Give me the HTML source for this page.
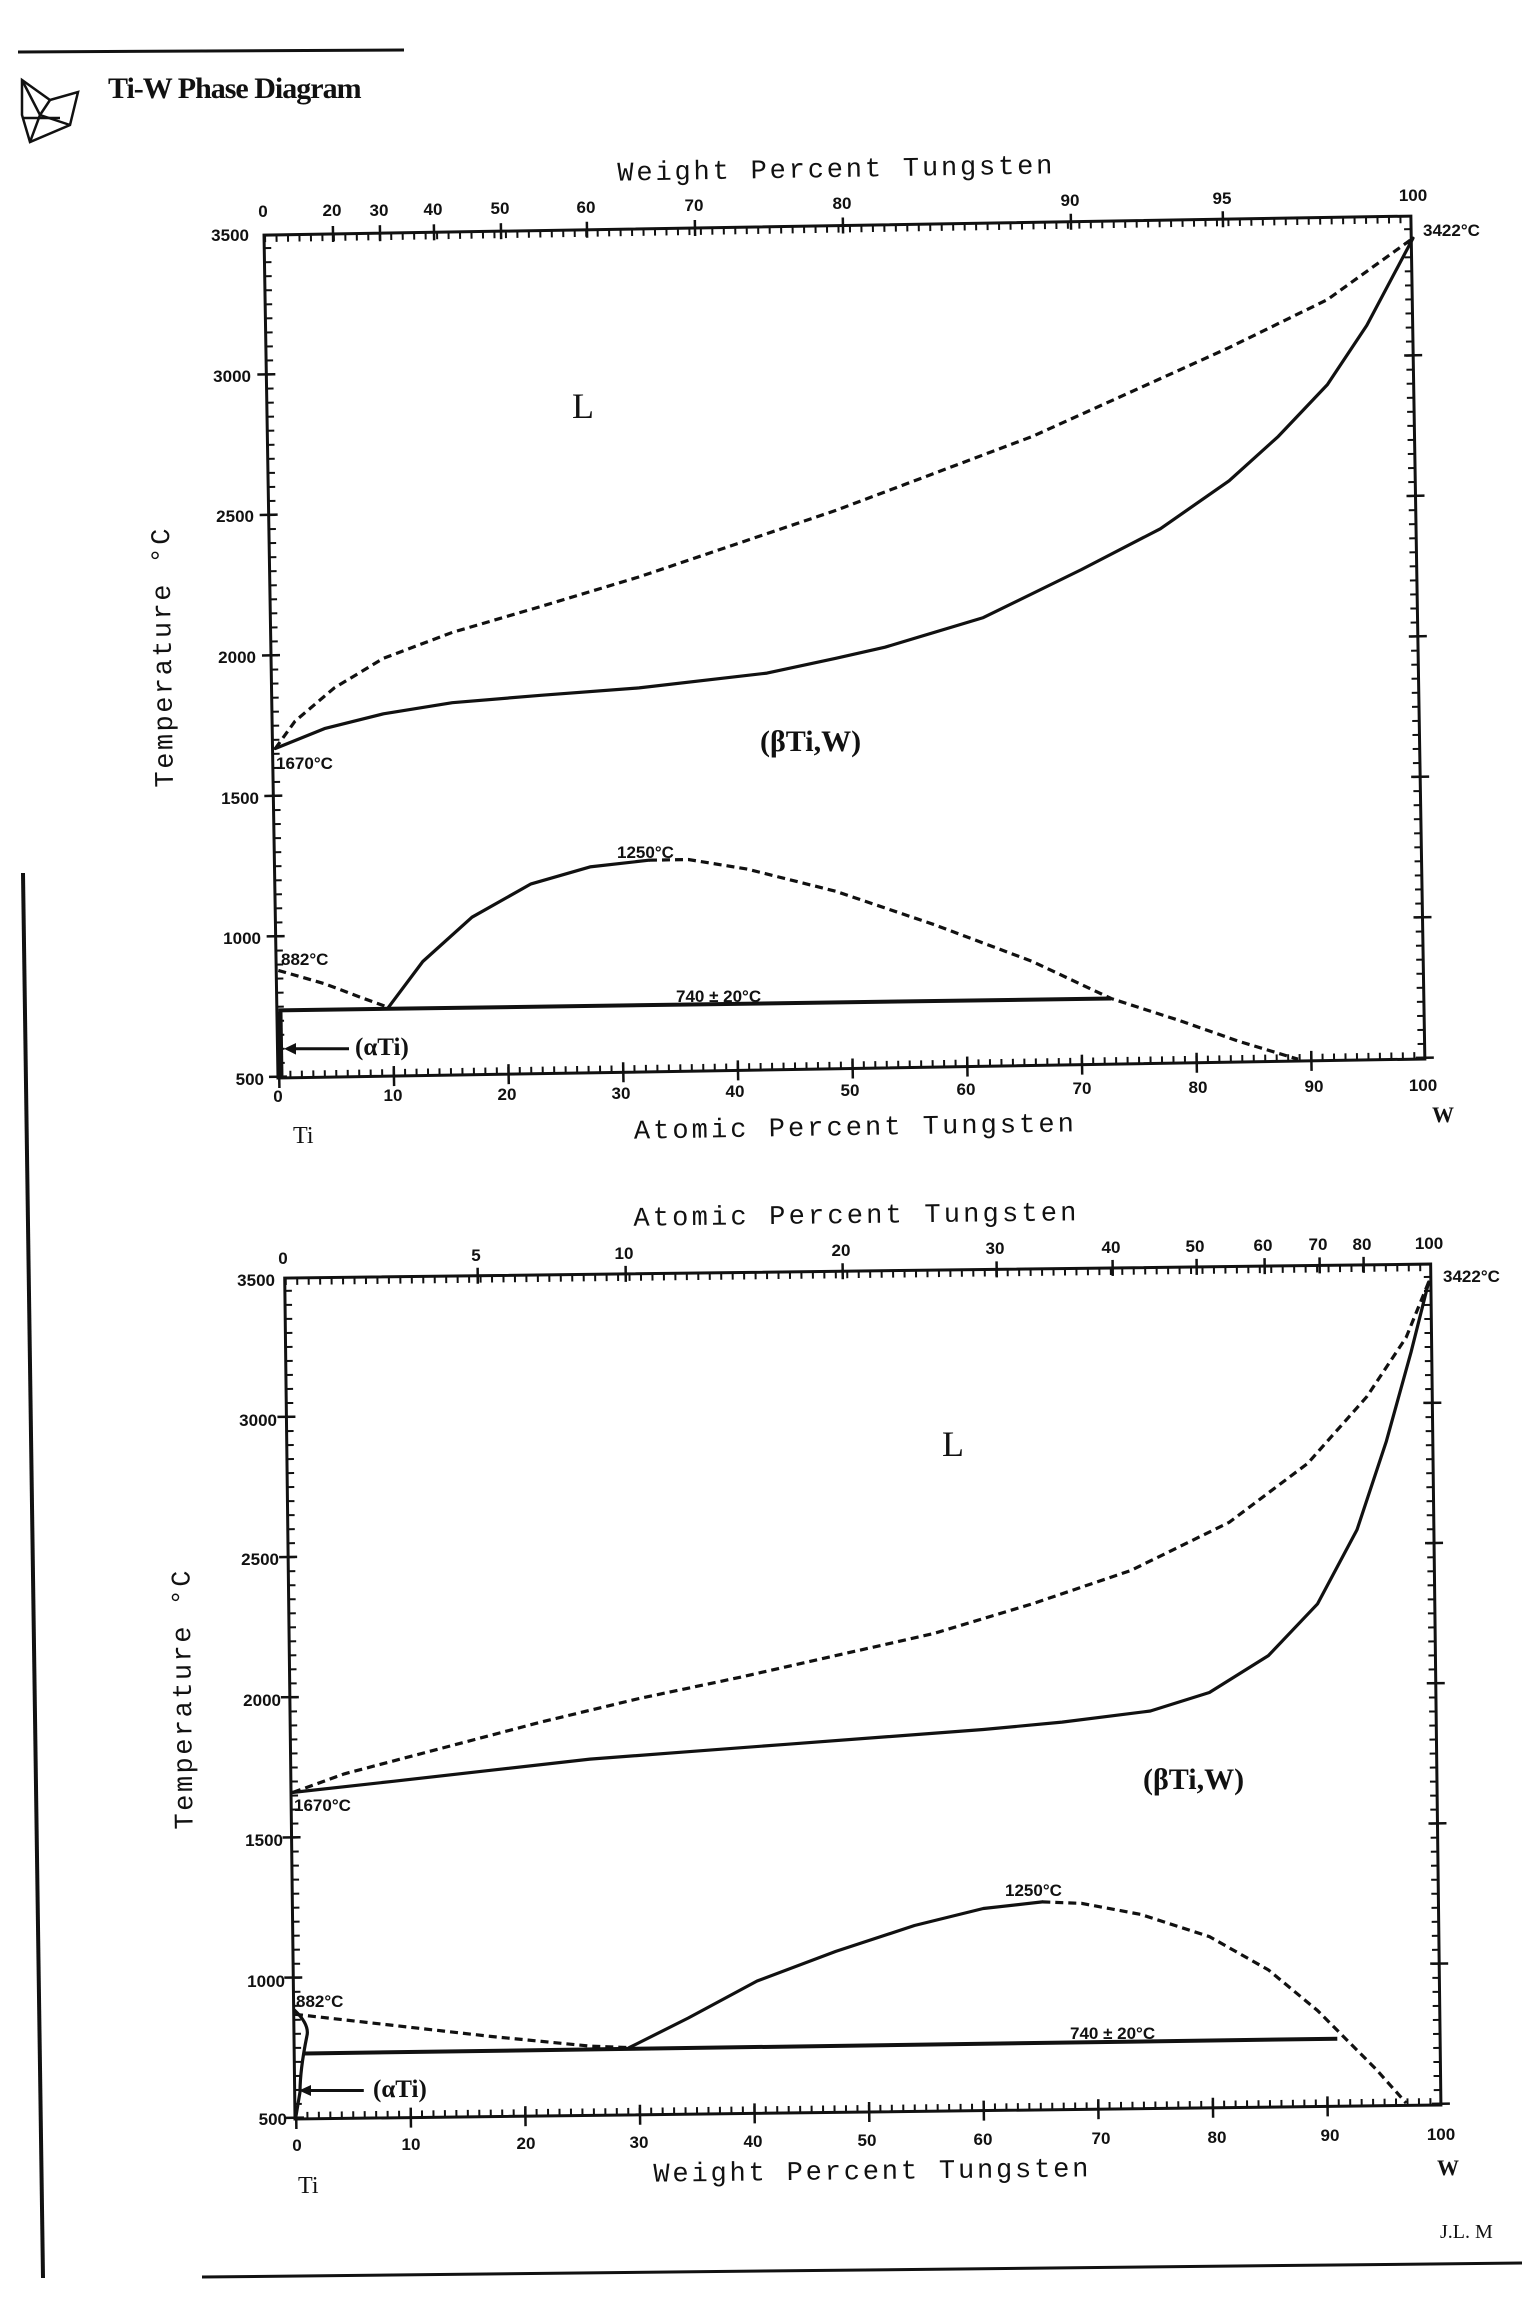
<!DOCTYPE html>
<html><head><meta charset="utf-8"><style>
html,body{margin:0;padding:0;background:#fff;}
svg{display:block}
.t{font-family:"Liberation Sans",sans-serif;font-size:17px;font-weight:bold;fill:#111}
.m{font-family:"Liberation Mono",monospace;font-size:27px;fill:#111}
.s{font-family:"Liberation Serif",serif;fill:#111}
.c{fill:none;stroke:#111;stroke-width:3.2;stroke-linejoin:round;stroke-linecap:round}
.d{fill:none;stroke:#111;stroke-width:3.2;stroke-dasharray:8 5}
.ax{fill:none;stroke:#111;stroke-width:3}
.tk{fill:none;stroke:#111}
</style></head><body>
<svg width="1522" height="2316" viewBox="0 0 1522 2316" xmlns="http://www.w3.org/2000/svg">
<!-- page decorations -->
<line x1="18" y1="52" x2="404" y2="50" stroke="#111" stroke-width="3"/>
<line x1="23" y1="873" x2="43" y2="2278" stroke="#111" stroke-width="4"/>
<line x1="202" y1="2277" x2="1522" y2="2263" stroke="#111" stroke-width="3"/>
<text x="1440" y="2238" class="s" font-size="20">J.L. M</text>
<g fill="none" stroke="#111" stroke-width="2.5">
<polygon points="22,80 50,100 78,92 70,125 30,142 22,115"/>
<polyline points="22,80 40,115 70,125"/>
<polyline points="50,100 40,115 30,142"/>
<line x1="22" y1="118" x2="60" y2="118"/>
</g>
<text x="108" y="98" class="s" font-size="30" font-weight="bold" letter-spacing="-1">Ti-W Phase Diagram</text>

<!-- ================= TOP CHART ================= -->
<g transform="translate(278,1078) rotate(-0.95)">
<rect x="0" y="-843" width="1147" height="843" class="ax"/>
<line x1="0" y1="-3.5" x2="1147" y2="-3.5" class="tk" stroke-width="7" stroke-dasharray="2 9.47"/>
<line x1="0" y1="0" x2="1147" y2="0" class="tk" stroke-width="20" stroke-dasharray="2.5 112.2"/>
<line x1="0" y1="-839.5" x2="1147" y2="-839.5" class="tk" stroke-width="7" stroke-dasharray="2 9.47"/>
<line x1="3.5" y1="0" x2="3.5" y2="-843" class="tk" stroke-width="7" stroke-dasharray="2 12.05"/>
<line x1="0" y1="0" x2="0" y2="-843" class="tk" stroke-width="18" stroke-dasharray="2.5 138"/>
<line x1="1143.5" y1="0" x2="1143.5" y2="-843" class="tk" stroke-width="7" stroke-dasharray="2 12.05"/>
<line x1="1147" y1="0" x2="1147" y2="-843" class="tk" stroke-width="18" stroke-dasharray="2.5 138"/>
<g stroke="#111" stroke-width="2.5">
<line x1="69" y1="-851" x2="69" y2="-835"/><line x1="116" y1="-851" x2="116" y2="-835"/>
<line x1="170" y1="-851" x2="170" y2="-835"/><line x1="237" y1="-851" x2="237" y2="-835"/>
<line x1="323" y1="-851" x2="323" y2="-835"/><line x1="431" y1="-851" x2="431" y2="-835"/>
<line x1="579" y1="-851" x2="579" y2="-835"/><line x1="807" y1="-851" x2="807" y2="-835"/>
<line x1="959" y1="-851" x2="959" y2="-835"/>
</g>
</g>
<text x="835" y="177" class="m" text-anchor="middle" textLength="435" transform="rotate(-0.95 835 177)">Weight Percent Tungsten</text>
<g class="t" text-anchor="middle">
<text x="263" y="217">0</text><text x="332" y="216">20</text><text x="379" y="216">30</text>
<text x="433" y="215">40</text><text x="500" y="214">50</text><text x="586" y="213">60</text>
<text x="694" y="211">70</text><text x="842" y="209">80</text><text x="1070" y="206">90</text>
<text x="1222" y="204">95</text><text x="1413" y="201">100</text>
</g>
<g class="t" text-anchor="end">
<text x="249" y="241">3500</text><text x="251" y="382">3000</text><text x="254" y="522">2500</text>
<text x="256" y="663">2000</text><text x="259" y="804">1500</text><text x="261" y="944">1000</text>
<text x="264" y="1085">500</text>
</g>
<g class="t" text-anchor="middle">
<text x="278" y="1102">0</text><text x="393" y="1101">10</text><text x="507" y="1100">20</text>
<text x="621" y="1099">30</text><text x="735" y="1097">40</text><text x="850" y="1096">50</text>
<text x="966" y="1095">60</text><text x="1082" y="1094">70</text><text x="1198" y="1093">80</text>
<text x="1314" y="1092">90</text><text x="1423" y="1091">100</text>
</g>
<text x="854" y="1135" class="m" text-anchor="middle" textLength="440" transform="rotate(-0.95 854 1135)">Atomic Percent Tungsten</text>
<text x="162" y="658" class="m" text-anchor="middle" textLength="259" transform="rotate(-90.9 162 658)" dy="9">Temperature °C</text>
<text x="293" y="1143" class="s" font-size="24">Ti</text>
<text x="1432" y="1122" class="s" font-size="22" font-weight="bold">W</text>

<path class="d" d="M275.3,748.5 L295,721.2 L334.3,687.9 L383.5,658.3 L452.3,632.4 L540.8,606.5 L639.1,576.9 L737.5,543.6 L835.8,510.4 L934.1,473.4 L1032.4,436.4 L1130.8,392 L1229.1,347.6 L1327.4,299.6 L1413,238.2"/>
<path class="c" d="M275.3,748.5 L324.5,728.6 L383.5,713.8 L452.3,702.7 L540.8,695.3 L639.1,687.9 L767,673.1 L835.8,658.3 L885,647.2 L983.3,617.6 L1081.6,569.5 L1160.3,528.8 L1229.1,480.8 L1278.3,436.4 L1327.4,384.6 L1366.8,325.4 L1413,238.2"/>
<path class="c" d="M388.4,1007.4 L422.8,961.5 L472,917.2 L531,883.9 L590,866.9 L649,860.2"/>
<path class="d" d="M649,860.2 L688.3,859.5 L747.3,869.1 L835.8,891.3 L934.1,924.6 L1032.4,961.5 L1111.1,998.5 L1180,1020.7 L1239,1041.4 L1298,1059.2"/>
<path class="d" d="M278.3,970.4 L324.5,983.7 L363.8,998.5 L388.4,1007.4"/>
<line x1="278.3" y1="1010.4" x2="1111.1" y2="998.5" stroke="#111" stroke-width="4"/>
<line x1="280" y1="1012" x2="281" y2="1078" stroke="#111" stroke-width="5"/>
<line x1="349" y1="1048.8" x2="292" y2="1048.8" stroke="#111" stroke-width="3"/>
<polygon points="284,1048.8 296,1043 296,1054.6" fill="#111"/>
<text x="572" y="418" class="s" font-size="36">L</text>
<text x="760" y="751" class="s" font-size="30" font-weight="bold">(βTi,W)</text>
<text x="276" y="769" class="t" font-size="16">1670°C</text>
<text x="617" y="858" class="t" font-size="16">1250°C</text>
<text x="281" y="965" class="t" font-size="16">882°C</text>
<text x="676" y="1002" class="t" font-size="16">740 ± 20°C</text>
<text x="1423" y="236" class="t" font-size="16">3422°C</text>
<text x="355" y="1055" class="s" font-size="25" font-weight="bold">(αTi)</text>

<!-- ================= BOTTOM CHART ================= -->
<g transform="translate(295,2119) rotate(-0.7)">
<rect x="0" y="-841" width="1146" height="841" class="ax"/>
<line x1="0" y1="-3.5" x2="1146" y2="-3.5" class="tk" stroke-width="7" stroke-dasharray="2 9.46"/>
<line x1="0" y1="0" x2="1146" y2="0" class="tk" stroke-width="20" stroke-dasharray="2.5 112.1"/>
<line x1="0" y1="-837.5" x2="1146" y2="-837.5" class="tk" stroke-width="7" stroke-dasharray="2 9.46"/>
<line x1="3.5" y1="0" x2="3.5" y2="-841" class="tk" stroke-width="7" stroke-dasharray="2 12.02"/>
<line x1="0" y1="0" x2="0" y2="-841" class="tk" stroke-width="18" stroke-dasharray="2.5 137.7"/>
<line x1="1142.5" y1="0" x2="1142.5" y2="-841" class="tk" stroke-width="7" stroke-dasharray="2 12.02"/>
<line x1="1146" y1="0" x2="1146" y2="-841" class="tk" stroke-width="18" stroke-dasharray="2.5 137.7"/>
<g stroke="#111" stroke-width="2.5">
<line x1="193" y1="-849" x2="193" y2="-833"/><line x1="341" y1="-849" x2="341" y2="-833"/>
<line x1="558" y1="-849" x2="558" y2="-833"/><line x1="712" y1="-849" x2="712" y2="-833"/>
<line x1="828" y1="-849" x2="828" y2="-833"/><line x1="912" y1="-849" x2="912" y2="-833"/>
<line x1="980" y1="-849" x2="980" y2="-833"/><line x1="1035" y1="-849" x2="1035" y2="-833"/>
<line x1="1079" y1="-849" x2="1079" y2="-833"/>
</g>
</g>
<text x="855" y="1223" class="m" text-anchor="middle" textLength="443" transform="rotate(-0.7 855 1223)">Atomic Percent Tungsten</text>
<g class="t" text-anchor="middle">
<text x="283" y="1264">0</text><text x="476" y="1261">5</text><text x="624" y="1259">10</text>
<text x="841" y="1256">20</text><text x="995" y="1254">30</text><text x="1111" y="1253">40</text>
<text x="1195" y="1252">50</text><text x="1263" y="1251">60</text><text x="1318" y="1250">70</text>
<text x="1362" y="1250">80</text><text x="1429" y="1249">100</text>
</g>
<g class="t" text-anchor="end">
<text x="275" y="1286">3500</text><text x="277" y="1426">3000</text><text x="279" y="1565">2500</text>
<text x="281" y="1706">2000</text><text x="283" y="1846">1500</text><text x="285" y="1987">1000</text>
<text x="287" y="2125">500</text>
</g>
<g class="t" text-anchor="middle">
<text x="297" y="2151">0</text><text x="411" y="2150">10</text><text x="526" y="2149">20</text>
<text x="639" y="2148">30</text><text x="753" y="2147">40</text><text x="867" y="2146">50</text>
<text x="983" y="2145">60</text><text x="1101" y="2144">70</text><text x="1217" y="2143">80</text>
<text x="1330" y="2141">90</text><text x="1441" y="2140">100</text>
</g>
<text x="871" y="2179" class="m" text-anchor="middle" textLength="435" transform="rotate(-0.7 871 2179)">Weight Percent Tungsten</text>
<text x="182" y="1700" class="m" text-anchor="middle" textLength="259" transform="rotate(-90.7 182 1700)" dy="9">Temperature °C</text>
<text x="298" y="2193" class="s" font-size="24">Ti</text>
<text x="1437" y="2175" class="s" font-size="22" font-weight="bold">W</text>

<path class="d" d="M293,1792.4 L344.2,1773.9 L442.5,1748 L540.8,1722.1 L639.1,1698.5 L737.5,1677.8 L835.8,1655.6 L934.1,1633.4 L1032.4,1603.8 L1130.8,1570.5 L1229.1,1522.4 L1307.8,1463.3 L1366.8,1396.7 L1406.1,1337.5 L1428.7,1282"/>
<path class="c" d="M293,1792.4 L393.3,1781.3 L491.6,1770.2 L590,1759.1 L688.3,1751.7 L786.6,1744.3 L885,1736.9 L983.3,1729.5 L1062,1722.1 L1150.4,1711 L1209.4,1692.5 L1268.4,1655.6 L1317.6,1603.8 L1357,1529.8 L1386.4,1441.1 L1411,1352.3 L1428.7,1282"/>
<path class="c" d="M629.3,2047.6 L688.3,2018 L757.1,1981 L835.8,1951.4 L914.5,1925.5 L983.3,1908.5 L1042.3,1901.9"/>
<path class="d" d="M1042.3,1901.9 L1081.6,1903.4 L1140.6,1914.4 L1209.4,1936.6 L1268.4,1969.9 L1317.6,2010.6 L1347.1,2040.2 L1376.6,2069.8 L1406.1,2103"/>
<path class="d" d="M295,2014.3 L393.3,2025.4 L491.6,2036.5 L590,2046.1 L629.3,2047.6"/>
<line x1="304.8" y1="2053.5" x2="1337.3" y2="2038.7" stroke="#111" stroke-width="4"/>
<path class="c" d="M295,2010.6 Q310,2025 306.8,2036.5 Q300,2070 300,2092 L296,2116"/>
<line x1="363.8" y1="2090.5" x2="307" y2="2090.5" stroke="#111" stroke-width="3"/>
<polygon points="299,2090.5 311,2085 311,2096" fill="#111"/>
<text x="942" y="1456" class="s" font-size="36">L</text>
<text x="1143" y="1789" class="s" font-size="30" font-weight="bold">(βTi,W)</text>
<text x="294" y="1811" class="t" font-size="16">1670°C</text>
<text x="1005" y="1896" class="t" font-size="16">1250°C</text>
<text x="296" y="2007" class="t" font-size="16">882°C</text>
<text x="1070" y="2039" class="t" font-size="16">740 ± 20°C</text>
<text x="1443" y="1282" class="t" font-size="16">3422°C</text>
<text x="373" y="2097" class="s" font-size="25" font-weight="bold">(αTi)</text>
</svg>
</body></html>
